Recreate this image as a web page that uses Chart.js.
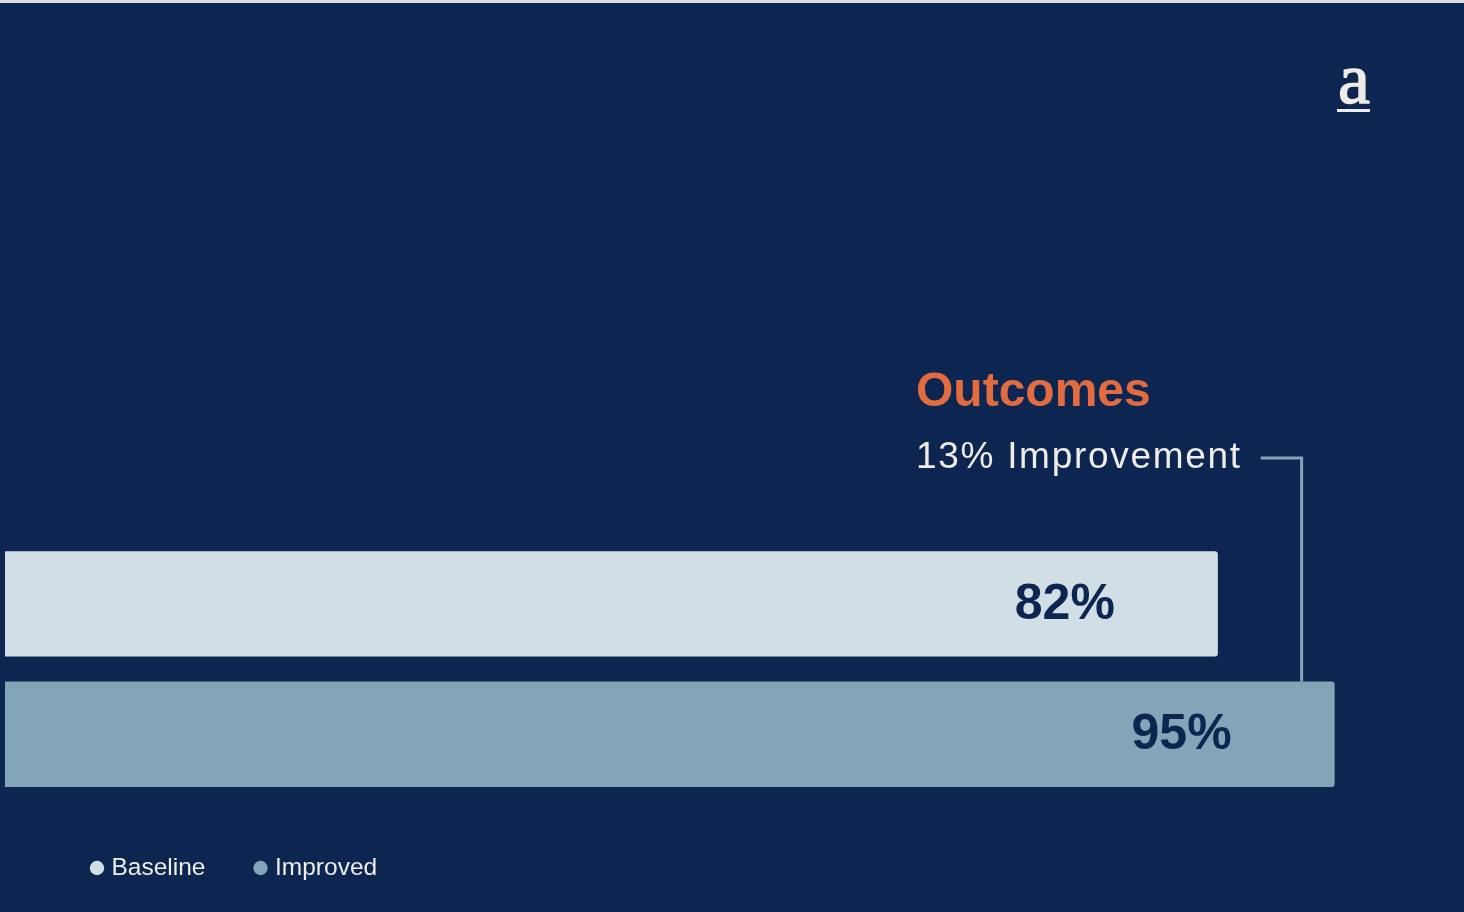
<!DOCTYPE html>
<html>
<head>
<meta charset="utf-8">
<title>Outcomes</title>
<script src="https://cdn.jsdelivr.net/npm/chart.js@4.4.1/dist/chart.umd.min.js"></script>
<style>
    html, body { margin: 0; padding: 0; background: #0c2651; overflow: hidden; }
    #wrap { position: relative; width: 1464px; height: 912px; }
    #topRule { position: absolute; left: 0; top: 0; width: 100%; height: 3px; background: #dcdde2; }
</style>
</head>
<body>
<div id="wrap">
    <canvas id="outcomesChart"></canvas>
    <div id="topRule"></div>
</div>
<script>
const CATEGORIES = ['Baseline', 'Improved'];
const VALUES = [82, 95];
const BAR_COLORS = ['#d1dee6', '#82a5b8'];
const VALUE_LABELS = ['82%', '95%'];
const TITLE = 'Outcomes';
const SUBTITLE = '13% Improvement';
const LOGO = 'a';

// axis range, the bars start left of the visible zero
const X_MIN = -53;
const X_MAX = 109.4;

const NAVY = '#0c2651';
const CREAM = '#efebe5';
const ORANGE = '#e36b40';

const valueLabelsPlugin = {
    id: 'valueLabels',
    afterDatasetsDraw(chart) {
        const ctx = chart.ctx;
        const meta = chart.getDatasetMeta(0);
        ctx.save();
        ctx.font = 'bold 50px "Liberation Sans", Arial, sans-serif';
        ctx.fillStyle = NAVY;
        ctx.textAlign = 'right';
        ctx.textBaseline = 'alphabetic';
        meta.data.forEach((bar, i) => {
            ctx.fillText(VALUE_LABELS[i], bar.x - 103, bar.y + 15);
        });
        ctx.restore();
    }
};

const annotationPlugin = {
    id: 'annotation',
    afterDraw(chart) {
        const ctx = chart.ctx;
        const meta = chart.getDatasetMeta(0);
        const improved = meta.data[1];
        const textX = 916;

        ctx.save();
        ctx.textAlign = 'left';
        ctx.textBaseline = 'alphabetic';

        ctx.font = 'bold 48px "Liberation Sans", Arial, sans-serif';
        ctx.fillStyle = ORANGE;
        ctx.fillText(TITLE, textX, 406);

        ctx.font = '37px "Liberation Sans", Arial, sans-serif';
        ctx.letterSpacing = '1.7px';
        ctx.fillStyle = CREAM;
        ctx.fillText(SUBTITLE, textX, 468);
        const subWidth = ctx.measureText(SUBTITLE).width;
        ctx.letterSpacing = '0px';

        // bracket from the subtitle down to the improved bar
        const lineX = improved.x - 33;
        ctx.strokeStyle = BAR_COLORS[1];
        ctx.lineWidth = 3;
        ctx.beginPath();
        ctx.moveTo(textX + subWidth + 19, 458);
        ctx.lineTo(lineX, 458);
        ctx.lineTo(lineX, improved.y - improved.height / 2);
        ctx.stroke();

        // logo
        ctx.font = '72px "Liberation Serif", "Times New Roman", serif';
        ctx.fillStyle = CREAM;
        ctx.strokeStyle = CREAM;
        ctx.lineWidth = 1.4;
        ctx.textAlign = 'center';
        ctx.fillText(LOGO, 1354, 103);
        ctx.strokeText(LOGO, 1354, 103);
        ctx.fillRect(1337, 109, 33, 3);

        // legend
        ctx.font = '24.5px "Liberation Sans", Arial, sans-serif';
        ctx.textAlign = 'left';
        const legendX = [97, 260.5];
        CATEGORIES.forEach((name, i) => {
            ctx.fillStyle = BAR_COLORS[i];
            ctx.beginPath();
            ctx.arc(legendX[i], 868, 7.2, 0, Math.PI * 2);
            ctx.fill();
            ctx.fillStyle = CREAM;
            ctx.fillText(name, legendX[i] + 14.5, 875);
        });
        ctx.restore();
    }
};

const chartCtx = document.getElementById('outcomesChart').getContext('2d');
const outcomesChart = new Chart(chartCtx, {
    type: 'bar',
    plugins: [valueLabelsPlugin, annotationPlugin],
    data: {
        labels: CATEGORIES,
        datasets: [
            {
                label: 'Outcomes',
                data: VALUES,
                base: X_MIN,
                backgroundColor: BAR_COLORS,
                borderRadius: 3,
                borderSkipped: 'start',
                categoryPercentage: 1,
                barPercentage: 0.808
            }
        ]
    },
    options: {
        indexAxis: 'y',
        responsive: true,
        maintainAspectRatio: false,
        animation: false,
        layout: {
            padding: { left: 5, right: 0, top: 538.7, bottom: 112.5 }
        },
        scales: {
            x: {
                type: 'linear',
                min: X_MIN,
                max: X_MAX,
                display: false,
                grid: { display: false }
            },
            y: {
                type: 'category',
                offset: true,
                display: false,
                grid: { display: false }
            }
        },
        plugins: {
            legend: { display: false },
            tooltip: { enabled: false }
        }
    }
});
</script>
</body>
</html>
